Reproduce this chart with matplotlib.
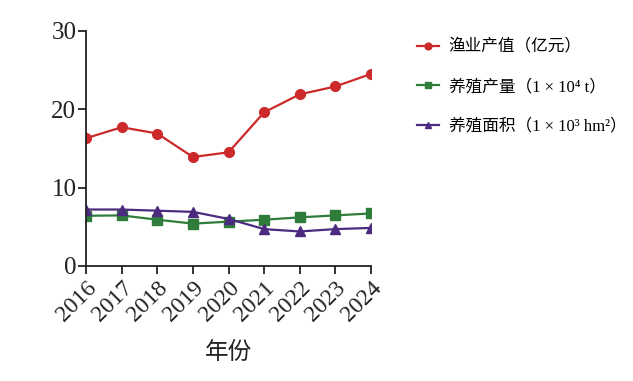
import matplotlib
matplotlib.use('Agg')
import matplotlib.pyplot as plt

plt.rcParams['font.family'] = ['Liberation Serif', 'Noto Sans CJK SC']

years = [2016, 2017, 2018, 2019, 2020, 2021, 2022, 2023, 2024]
fishery_value = [16.3, 17.7, 16.9, 13.9, 14.5, 19.6, 21.9, 22.9, 24.5]
aquaculture_output = [6.4, 6.45, 5.9, 5.4, 5.65, 5.9, 6.2, 6.45, 6.7]
aquaculture_area = [7.2, 7.2, 7.05, 6.9, 6.0, 4.7, 4.4, 4.7, 4.85]

labels = ['渔业产值（亿元）',
          '养殖产量（1 × 10⁴ t）',
          '养殖面积（1 × 10³ hm²）']

fig = plt.figure(figsize=(6.33, 3.81), dpi=100)
ax = fig.add_axes([0.136, 0.302, 0.45, 0.617])

ax.plot(years, fishery_value, color='#cc2a2a', marker='o', markersize=7, lw=1.6, label=labels[0])
ax.plot(years, aquaculture_output, color='#2e7d3a', marker='s', markersize=7, lw=1.6, label=labels[1])
ax.plot(years, aquaculture_area, color='#4b2a7f', marker='^', markersize=7, lw=1.6, label=labels[2])

ax.set_xlim(2016, 2024)
ax.set_ylim(0, 30)
ax.set_yticks([0, 10, 20, 30])
ax.set_xticks(years)
ax.set_xticklabels([str(y) for y in years], rotation=45, ha='right', rotation_mode='anchor')
ax.tick_params(axis='both', direction='out', length=6, width=1.3, colors='#222222')
ax.tick_params(axis='y', labelsize=18, pad=1)
ax.tick_params(axis='x', labelsize=17, pad=2)
for side in ['top', 'right']:
    ax.spines[side].set_visible(False)
for side in ['left', 'bottom']:
    ax.spines[side].set_linewidth(1.3)
    ax.spines[side].set_color('#222222')

ax.set_xlabel('年份', fontsize=17, color='#222222', labelpad=12)

fig.legend(loc='upper left', bbox_to_anchor=(0.635, 0.935), frameon=False, fontsize=12,
           handlelength=1.3, labelspacing=1.4, handletextpad=0.6, markerscale=0.7)

fig.savefig('out.png', dpi=100)
